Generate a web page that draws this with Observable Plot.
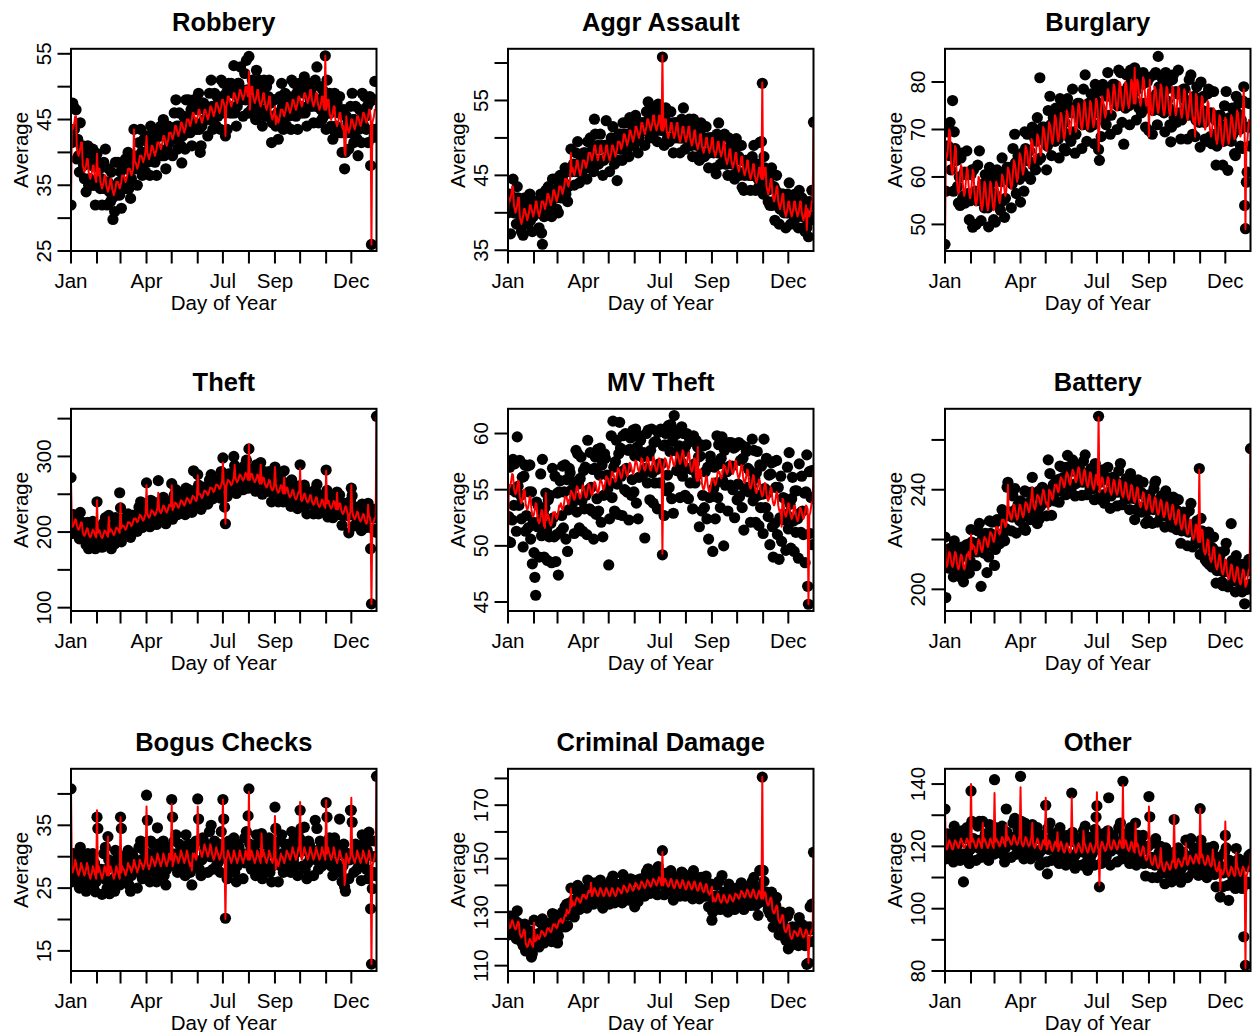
<!DOCTYPE html>
<html>
<head>
<meta charset="utf-8">
<script src="https://cdn.jsdelivr.net/npm/d3@7"></script>
<script src="https://cdn.jsdelivr.net/npm/@observablehq/plot@0.6"></script>
<style>
  html, body { margin: 0; padding: 0; background: #fff; }
  body { width: 1257px; height: 1032px; overflow: hidden; position: relative; }
  .panel { position: absolute; width: 437px; height: 360px; }
  .panel svg { max-width: none !important; width: 437px; height: 360px; display: block; }
  .panel svg [aria-label="x-axis tick"], .panel svg [aria-label="y-axis tick"] { stroke-width: 2px; }
  .panel svg g.tick line { stroke-width: 2px; }
</style>
</head>
<body>
<div id="chart"></div>
<script>
// Month boundaries (day of year) and the month names printed on the x axis
const monthTicks = [1, 32, 60, 91, 121, 152, 182, 213, 244, 274, 305, 335];
const monthNames = ["Jan", "Feb", "Mar", "Apr", "May", "Jun", "Jul", "Aug", "Sep", "Oct", "Nov", "Dec"];
const shownMonths = ["Jan", "Apr", "Jul", "Sep", "Dec"];

// Daily averages (black dots) and fitted values (red line), day 1 .. 365, one week per group
const robberyAvg = [
32,41.5,47.5,47,43.5,42,46.5, 39,42,39.5,37,44.5,41,39.5, 41,38,36,39.5,34,40,41, 35,36,39.5,35,38,40.5,35,
38,32,35,39.8,38.5,36,37.5, 34.5,36,32,35,38.5,34.5,40.5, 35.5,32,35.5,37.5,34,32.5,37, 33,29.8,33.5,31,38.5,35,33.5,
38.5,35.5,33.5,37,31.5,37.5,38.5, 34.5,35.5,39,34.5,37.5,40,34.5, 39,33,36,39.5,39.5,43.5,38.5, 37.5,39,35,38,41.5,37.5,43.5,
40,36.5,40,42,38.5,37,42.5, 38.5,41.5,39,36.5,44,40.5,39, 43.5,40.5,38.5,42,36.5,42.5,43.5, 39.5,40.5,44,39.5,42.5,45,39.5,
43.5,37.5,40.5,44,44,41.5,43, 42,43.5,39.5,42.5,46,42,48, 44,40.5,44,46,42.5,41,38.4, 42.5,45.5,43,40.5,48,44.5,43,
48,45,43,46.5,41,47,48, 43.5,44.5,48,43.5,46.5,49,43.5, 40,41,44,47.5,47.5,45,46.5, 45,46.5,42.5,45.5,49,45,51,
47,43.5,47,49,45.5,44,48.5, 45.5,48.5,46,43.5,51,47.5,46, 50.5,47.5,42.5,49,43.5,49.5,50.5, 46,47,50.5,46,49,53.2,46,
50,44,47,50.5,50.5,48,53, 48,49.5,45.5,48.5,52,48,54, 49.5,46,54.6,46,48,46.5,51, 47,50,47.5,45,52.5,49,47.5,
51,48,46,49.5,44,50,51, 45.5,46.5,50,45.5,48.5,51,45.5, 47.5,41.5,44.5,48,48,45.5,44, 44.5,46,42,45,48.5,44.5,50.5,
47,43.5,47,49,45.5,44,48.5, 45.5,48.5,46,43.5,51,47.5,46, 50.5,47.5,45.5,49,43.5,49.5,50.5, 46,47,50.5,46,49,51.5,46,
50,44,47,50.5,50.5,48,49.5, 47,48.5,44.5,47.5,51,47,53, 48,44.5,48,50,46.5,45,49.5, 45.5,48.5,54.7,43.5,51,47.5,46,
49,46,44,47.5,42,48,49, 43,44,47.5,43,46,48.5,43, 46,40,43,46.5,37.5,40,45.5, 43,44.5,40.5,43.5,47,43,49,
45,41.5,45,47,43.5,42,39.5, 43.5,46.5,44,41.5,49,45.5,44, 48.5,45.5,43.5,47,41.5,47.5,48.5, 38,26,48,43.5,42.3,50.8,43.5,
48];
const robberyFit = [
32,44,43.5,44,44.5,45.5,45.5, 40.5,40,39.5,40,40.5,41.5,41.5, 38,37.5,37,37.5,38,39,39, 37,36.5,36,36.5,37,38,38,
36.5,36,35.5,39.8,36.5,37.5,37.5, 35.5,35,34.5,35,35.5,36.5,36.5, 35,34.5,34,34.5,35,36,36, 34.5,34,33.5,34,34.5,35.5,35.5,
35.5,35,34.5,35,35.5,36.5,36.5, 36.5,36,35.5,36,36.5,37.5,37.5, 37.5,37,36.5,37,37.5,43.5,38.5, 38.5,38,37.5,38,38.5,39.5,39.5,
39.5,39,38.5,39,39.5,40.5,42.5, 40,39.5,39,39.5,40,41,41, 40.5,40,39.5,40,40.5,41.5,41.5, 41.5,41,40.5,41,41.5,42.5,42.5,
42,41.5,41,41.5,42,43,43, 43,42.5,42,42.5,43,44,44, 43.5,43,42.5,43,43.5,44.5,44.5, 44,43.5,43,43.5,44,45,45,
45,44.5,44,44.5,45,46,46, 45.5,45,44.5,45,45.5,46.5,46.5, 45.5,45,44.5,45,45.5,46.5,46.5, 46,45.5,45,45.5,46,47,47,
46.5,46,45.5,46,46.5,47.5,47.5, 47,46.5,46,46.5,47,48,48, 47.5,47,42.5,47,47.5,48.5,48.5, 48,47.5,47,47.5,48,49,49,
48.5,48,47.5,48,48.5,49.5,49.5, 49,48.5,48,48.5,49,50,50, 49,48.5,52.3,46.5,49,50,50, 48.5,48,47.5,48,48.5,49.5,49.5,
48,47.5,47,47.5,48,49,49, 47.5,47,46.5,47,47.5,48.5,48.5, 46,45.5,45,45.5,46,47,44.3, 45.5,45,44.5,45,45.5,46.5,46.5,
46.5,46,45.5,46,46.5,47.5,47.5, 47,46.5,46,46.5,47,48,48, 47.5,47,46.5,47,47.5,48.5,48.5, 48,47.5,47,47.5,48,49,49,
48.5,48,47.5,48,48.5,49.5,49.5, 48,47.5,47,47.5,48,49,49, 47.5,47,46.5,47,47.5,48.5,48.5, 47,46.5,54.7,46.5,47,48,48,
46,45.5,45,45.5,46,47,47, 45,44.5,44,44.5,45,46,46, 44.5,44,43.5,44,40,39.5,45.5, 44,43.5,43,43.5,44,45,45,
44.5,44,43.5,44,44.5,45.5,45.5, 45,44.5,44,44.5,45,46,46, 45.5,45,44.5,45,45.5,46.5,46.5, 45.5,26,44.5,45,45.5,46.5,46.5,
48];

const assaultAvg = [
40,40.5,42.5,37.2,42,41,44.5, 40,42,40,38.5,43.5,42,41, 41.5,39,37.5,40,37,41,42, 38.5,39,41,38.5,40.5,42.5,39,
41.5,37.5,39.5,41.5,41.5,40.5,41.5, 40,41,38,40,42.5,37.3,35.8, 42,39.5,41.5,43,41,40,43.5, 41,43,41,39.5,44.5,43,42,
44.5,42,40.5,43,40,44,45, 42,42.5,44.5,42,44,46,42.5, 45.5,41.5,43.5,45.5,45.5,48.5,45.5, 45.5,46.5,43.7,45.5,48,45.5,49.5,
46.5,44,46,47.5,45.5,44.5,48, 46,48,46,44.5,49.5,48,47, 50,47.5,46,48.5,45.5,52.5,50.5, 46.5,47,49,46.5,48.5,50.5,47,
49,45,47,49,49,52.3,49, 47.5,48.5,45.5,47.5,50,47.5,51.5, 49,46.5,48.5,50,44.3,47,50.5, 48.5,50.5,48.5,47,52,50.5,49.5,
52,49.5,48,50.5,47.5,52.7,52.5, 49,49.5,51.5,49,51,53,49.5, 52,48,50,52,52,51,52, 51,52,49,51,53.5,51,54.8,
52.5,50,52,53.5,51.5,50.5,54, 51,53,51,49.5,54.5,53,52, 53.5,51,60.8,52,49,53,54, 49.5,50,52,49.5,51.5,53.5,50,
52,48,50,52,52,51,52, 50,51,48,50,52.5,50,54, 51,48.5,50.5,52,50,49,52.5, 49,51,49,47.5,52.5,51,50,
51.5,49,47.5,50,47,51,52, 47.5,48,50,47.5,49.5,51.5,48, 50,46,48,50,50,49,50, 48,49,46,45.2,50.5,48,52,
49,46.5,48.5,50,48,47,50.5, 46.5,48.5,46.5,45,50,48.5,47.5, 49,46.5,45,47.5,44.5,48.5,49.9, 45,45.5,47.5,45,47,49,43.4,
47,43,45,47,47,46,47, 45,46,43,45,47.5,45,49, 45.5,43,45,46.5,44.5,43.5,49.4, 44,49.5,57.3,42.5,47.5,46,45,
45.5,43,41.5,44,41,45,46, 41,41.5,43.5,39,43,45,41.5, 42.5,38.5,40.5,42.5,42.5,41.5,42.5, 40,41,38,40,42.5,40,44,
41,38.5,40.5,42,40,39,42.5, 39.5,41.5,39.5,38,43,41.5,40.5, 42,39.5,38,40.5,37.5,41.5,38, 39,36.8,41.5,39,41,43,39.5,
52.1];
const assaultFit = [
40,42,41.5,42,42.5,43.5,43.5, 41,40.5,40,40.5,41,42,42, 39.5,39,38.5,39,39.5,40.5,40.5, 40,39.5,39,39.5,40,41,41,
40.5,40,39.5,40,40.5,41.5,41.5, 40.5,40,39.5,40,40.5,41.5,41.5, 41.5,41,40.5,41,41.5,42.5,42.5, 42,41.5,41,41.5,42,43,43,
42.5,42,41.5,42,42.5,43.5,43.5, 43.5,43,42.5,43,43.5,44.5,44.5, 44.5,44,43.5,44,44.5,48,45.5, 46,45.5,45,45.5,46,47,47,
46,45.5,45,45.5,46,47,47, 47,46.5,46,46.5,47,48,48, 48,47.5,47,47.5,48,49,49, 48,47.5,47,47.5,48,49,49,
48,47.5,47,47.5,48,49,49, 48,47.5,47,47.5,48,49,49, 48.5,48,47.5,48,48.5,49.5,49.5, 49.5,49,48.5,49,49.5,50.5,50.5,
50,49.5,49,49.5,50,51,51, 50.5,50,49.5,50,50.5,51.5,51.5, 51,50.5,50,50.5,51,52,52, 51.5,51,50.5,51,51.5,52.5,52.5,
52,51.5,51,51.5,52,53,53, 52,51.5,51,51.5,52,53,53, 51.5,51,61,51,51.5,52.5,52.5, 51,50.5,50,50.5,51,52,52,
51,50.5,50,50.5,51,52,52, 50.5,50,49.5,50,50.5,51.5,51.5, 50.5,50,49.5,50,50.5,51.5,51.5, 50,49.5,49,49.5,50,51,51,
49.5,49,48.5,49,49.5,50.5,50.5, 49,48.5,48,48.5,49,50,50, 49,48.5,48,48.5,49,50,50, 48.5,48,47.5,48,48.5,49.5,49.5,
48.5,48,47.5,48,48.5,49.5,49.5, 47.5,47,46.5,47,47.5,48.5,48.5, 47,46.5,46,46.5,47,48,48, 46.5,46,45.5,46,46.5,47.5,47.5,
46,45.5,45,45.5,46,47,47, 45.5,45,44.5,45,45.5,46.5,46.5, 45,44.5,44,44.5,45,46,46, 45,44.5,57.4,44.5,45,46,46,
43.5,43,42.5,43,43.5,44.5,44.5, 42.5,42,41.5,42,42.5,43.5,43.5, 41.5,41,40.5,41,41.5,42.5,42.5, 40.5,40,39.5,40,40.5,41.5,41.5,
40.5,40,39.5,40,40.5,41.5,41.5, 40.5,40,39.5,40,40.5,41.5,41.5, 40,39.5,39,39.5,40,41,37.7, 40.5,40,39.5,40,40.5,41.5,41.5,
52.1];

const burglaryAvg = [
45.8,57,66.5,69.5,66.5,64.5,71.5, 61.5,65,76.1,57,69.5,66,63.5, 63.5,58,54.5,60,54,64,65, 55.5,56,61,54.5,60.5,65.5,56.5,
60.5,51,55,60.5,61.5,49.4,61.5, 56,57,50,55,62.5,57,65.5, 57,50.8,55.5,58.5,55.5,53.5,60.5, 54,57.5,53.5,49.5,62,58.5,56,
60,54.5,51,56.5,50.5,60.5,61.5, 54,54.5,59.5,53,59,64,55, 61,51.5,55.5,61,62,60,62, 59.5,60.5,53.5,58.5,66,60.5,69,
63,56.5,61.5,64.5,61.5,59.5,54.7, 61.5,65,61,57,69.5,66,63.5, 69,63.5,60,65.5,59.5,69.5,70.5, 62.5,63,68,61.5,67.5,72.5,63.5,
69.5,80.9,64,69.5,70.5,68.5,70.5, 67.5,68.5,61.5,66.5,74,68.5,77, 71,64.5,69.5,72.5,69.5,67.5,74.5, 68.5,72,68,64,76.5,73,70.5,
75,69.5,66,71.5,65.5,75.5,76.5, 68.5,69,74,67.5,73.5,78.5,69.5, 74.5,65,69,74.5,75.5,73.5,75.5, 72,73,66,71,78.5,73,81.5,
74,67.5,72.5,75.5,72.5,70.5,77.5, 71.5,75,71,67,79.5,76,73.5, 78,65.8,63.5,74.5,68.5,78.5,79.5, 72,72.5,77.5,71,77,82,73,
78.5,69,73,78.5,79.5,77.5,79.5, 76,77,70,75,82.5,77,82, 78,71.5,76.5,66.9,76.5,74.5,81.5, 75.5,79,75,71,82.5,80,77.5,
81.5,76,83,78,72,82,82, 74.5,75,80,73.5,79.5,82,75.5, 80,70.5,74.5,80,81,69.8,81, 75,76,69,74,81.5,76,82,
77.5,71,85.4,79,76,74,81, 74,77.5,73.5,69.5,82,78.5,76, 80,74.5,71,67.4,70.5,80.5,81.5, 72.5,73,78,71.5,77.5,82.5,73.5,
77.5,68,72,77.5,78.5,76.5,78.5, 74,75,68,73,80.5,75,81.5, 75.5,69,74,77,68.5,72,79, 72,75.5,71.5,66.3,80,76.5,74,
77,71.5,68,73.5,67.5,77.5,78.5, 68,68.5,73.5,67,73,78,69, 72,62.5,66.5,72,73,71,73, 68.5,69.5,62.5,67.5,75,69.5,78,
71,61.4,69.5,72.5,69.5,67.5,74.5, 69,72.5,64.9,64.5,77,73.5,71, 75.5,70,66.5,72,66,76,79, 54,49.1,58.9,61,70.5,75.5,66.5,
70.5];
const burglaryFit = [
46,65,64,65,67.5,70,69.5, 63.5,61.5,60.5,61.5,64,66.5,66, 59.5,57.5,56.5,57.5,60,62.5,62, 59,57,56,57,59.5,62,61.5,
58.5,56.5,55.5,56.5,59,61.5,61, 57,55,54,55,57.5,60,59.5, 56,54,53,54,56.5,59,58.5, 56,54,53,54,56.5,59,58.5,
56,54,53,54,56.5,59,58.5, 57.5,55.5,54.5,55.5,58,60.5,60, 59,57,56,57,59.5,62,61.5, 60.5,58.5,57.5,58.5,61,63.5,63,
62,60,59,60,62.5,65,64.5, 63.5,61.5,60.5,61.5,64,66.5,66, 65,63,62,63,65.5,68,67.5, 66,64,63,64,66.5,69,68.5,
67.5,65.5,64.5,65.5,68,70.5,70, 68.5,66.5,65.5,66.5,69,71.5,71, 70,68,67,68,70.5,73,72.5, 70.5,68.5,67.5,68.5,71,73.5,73,
71,69,68,69,71.5,74,73.5, 72,70,69,70,72.5,75,74.5, 72.5,70.5,69.5,70.5,73,75.5,75, 73,71,70,71,73.5,76,75.5,
73,71,70,71,73.5,76,75.5, 73.5,71.5,70.5,71.5,74,76.5,76, 74,65.5,71,72,74.5,77,76.5, 75.5,73.5,72.5,73.5,76,78.5,78,
76.5,74.5,73.5,74.5,77,79.5,79, 77,75,74,75,77.5,80,79.5, 77,75,74,75,77.5,80,79.5, 77.5,75.5,74.5,75.5,78,80.5,80,
77.5,75.5,83,75.5,78,80.5,80, 78,76,75,76,78.5,81,80.5, 78,76,75,76,78.5,68.5,80.5, 76,74,73,74,76.5,79,78.5,
76.5,74.5,73.5,74.5,77,79.5,79, 76,74,73,74,76.5,79,78.5, 76,74,73,74,76.5,79,78.5, 76,74,73,74,76.5,79,78.5,
75.5,73.5,72.5,73.5,76,78.5,78, 75,73,72,73,75.5,78,77.5, 74.5,72.5,71.5,72.5,68.5,77.5,77, 74,72,71,72,74.5,77,76.5,
73,71,70,71,73.5,76,75.5, 71.5,69.5,68.5,69.5,72,74.5,74, 70,68,67,68,70.5,73,72.5, 69.5,67.5,66.5,67.5,70,72.5,72,
70,68,67,68,70.5,73,72.5, 71,69,68,69,71.5,74,73.5, 71.5,69.5,68.5,69.5,72,74.5,78.5, 69,49,66,67,69.5,72,71.5,
70];

const theftAvg = [
272,198,214,223,209,201,221, 202,215,204,191,226,211,204, 213,199,190,205,183,210,213, 178,192,208,188,203,214,188,
204,178,191,240,207,197,203, 193,199,180,194,212,193,219, 202,185,201,222,196,188,178, 195,208,197,184,219,204,197,
217,203,252,232,187,214,217, 198,202,218,198,213,224,198, 219,193,206,222,222,212,218, 214,220,201,215,233,214,240,
223,206,222,231,217,209,265, 218,231,220,207,242,227,220, 240,226,217,232,210,237,268, 220,224,240,220,235,246,220,
237,211,224,240,240,230,236, 230,264,217,231,249,230,256, 240,223,239,248,234,226,246, 234,247,236,223,258,243,236,
256,242,233,248,226,253,281, 236,240,256,236,276,262,236, 256,230,243,259,259,249,255, 250,256,237,251,269,250,276,
261,244,260,269,255,247,267, 256,269,258,245,280,265,298, 277,233,211,269,247,274,277, 257,261,277,257,272,300,288,
277,251,264,280,280,270,276, 269,275,256,270,288,269,295, 275,258,310,283,269,261,281, 265,278,267,254,289,274,267,
280,266,292,272,250,277,280, 254,258,274,254,269,280,254, 266,240,253,269,269,286,265, 253,259,240,254,272,253,279,
257,240,281,265,251,243,263, 245,258,247,234,269,254,247, 261,247,238,253,231,258,261, 289,240,256,236,251,262,236,
250,224,237,253,253,243,249, 237,243,224,238,256,237,263, 241,224,240,249,235,227,247, 231,244,233,282,255,220,233,
249,235,226,241,219,246,249, 223,227,253,223,238,249,223, 235,209,222,238,238,228,234, 222,228,199,223,241,258,248,
225,208,224,233,219,211,231, 213,226,215,202,237,222,215, 229,215,206,221,238,226,229, 178,105,224,204,219,230,200,
353];
const theftFit = [
270,209,207,209,213,217,216, 208,205,203,205,209,213,212, 200,197,195,197,201,205,204, 198,195,193,195,199,203,202,
198,195,193,242,199,203,202, 197,194,192,194,198,202,201, 199,196,194,220,200,204,203, 201,198,196,198,202,206,205,
204,201,199,238,205,209,208, 208,205,203,205,209,213,212, 213,210,208,210,214,218,217, 218,215,213,215,219,223,222,
220,217,215,217,221,225,262, 224,221,219,221,225,229,228, 227,224,222,224,228,232,252, 230,227,225,227,231,235,234,
231,228,226,228,232,236,235, 234,262,229,231,235,239,238, 237,234,232,234,238,242,241, 240,237,235,237,241,245,244,
243,240,238,240,244,248,247, 246,243,241,243,275,251,250, 250,247,245,247,251,255,254, 254,251,249,251,255,259,258,
258,255,253,255,259,263,262, 262,259,257,259,263,267,292, 264,261,211,261,265,269,268, 267,264,262,264,268,272,289,
271,268,266,268,272,276,275, 273,270,268,270,274,278,277, 272,269,316,269,273,277,276, 271,268,266,268,272,276,275,
267,264,289,264,268,272,271, 264,261,259,261,265,269,268, 260,257,255,257,261,286,264, 257,254,252,254,258,262,261,
254,251,272,251,255,259,258, 251,248,246,248,252,256,255, 248,245,243,245,249,253,252, 284,243,241,243,247,251,250,
244,241,239,241,245,249,248, 241,238,236,238,242,246,245, 238,235,233,235,239,243,242, 237,234,232,281,238,242,241,
236,233,231,233,237,241,240, 233,230,252,230,234,238,237, 229,226,224,226,230,234,233, 226,223,200,223,227,262,230,
222,219,217,219,223,227,226, 219,216,214,216,220,224,223, 216,213,211,213,236,221,220, 214,105,209,211,215,219,218,
352];

const mvTheftAvg = [
50.4,52.6,57,50.3,55,52.3,57.7, 53.6,57.3,54.8,51.3,59.7,55.3,53.6, 57.6,54.5,52.4,56.1,49.9,56.2,57.2, 51.3,52.7,57.1,51.6,54.8,57.2,50.6,
54.8,48.4,52.1,49.4,47.2,45.6,53.9, 51.7,53.6,49,52.2,56.4,50.9,57.7, 52.9,49,53.4,54.7,51.4,48.7,54.1, 50.8,54.5,52,48.5,56.9,52.5,50.8,
56.2,48.6,51,54.7,47.4,54.8,55.8, 51.3,52.7,57.1,51.6,54.8,57.2,50.6, 55.9,49.5,53.2,56.9,56.5,53.3,55, 53.8,55.7,51.1,54.3,58.5,53,58.2,
55.5,51.6,56,57.9,54,51.3,56.7, 53.3,57,54.5,51,59.4,55,53.3, 58.3,55.2,53.1,56.8,50.6,56.9,57.9, 52.8,54.2,58.6,53.1,56.3,58.7,52.1,
57.2,50.8,54.5,58.2,57.8,54.6,56.3, 55.1,48.3,52.4,55.6,59.8,54.3,61.1, 57,53.1,57.5,59.4,55.5,52.8,58.2, 61,58.7,56.2,52.7,59.8,56.7,55,
60,56.9,54.8,58.5,52.3,58.6,59.6, 54.5,55.9,60.3,54.8,58,60.4,53.8, 58.8,52.4,56.1,59.8,59.4,56.2,57.9, 56.4,58.3,50.7,56.9,60,55.6,60.3,
58,54.1,58.5,60.4,56.5,53.8,59.2, 55.6,59.3,56.8,53.3,60.1,57.3,55.6, 60.4,57.3,49.2,58.9,52.7,59,60, 54.9,56.3,60.7,55.2,58.4,60.8,54.2,
59.3,52.9,61.6,60.3,59.9,56.7,58.4, 57,58.9,54.3,57.5,60.6,56.2,60, 58.4,54.5,58.9,60,56.9,54.2,59.6, 55.6,59.3,56.8,53.3,59.8,57.3,55.6,
59.4,56.3,58.8,57.9,51.7,58,59, 53.1,54.5,58.9,53.4,56.6,59,52.4, 57,50.6,54.3,58,57.6,54.4,49.5, 55.1,57,52.4,55.6,59.8,54.3,59,
57.3,53.4,57.8,59.7,55.8,50,58.5, 55.4,59.1,56.6,53.1,59.2,57.1,55.4, 59.2,57.1,55,58.7,52.5,58.8,59, 54.1,55.5,59.2,54.4,57.6,59,53.4,
57.8,51.4,55.1,58.8,58.4,55.2,56.9, 54.8,56.7,52.1,55.3,59.5,54,58.5, 56,52.1,56.5,58.4,54.5,51.8,57.2, 53.4,57.1,54.6,51.1,59.5,55.1,53.4,
57.8,54.7,52.6,56.3,50.1,56.4,57.4, 51.7,49,57.5,52,55.2,57.6,51, 55.2,48.8,52.5,56.2,50.4,52.6,54.3, 52.3,54.2,49.6,52.8,57,51.5,58.3,
53.7,49.8,54.2,56.1,52.2,49.5,54.9, 51.2,54.9,52.4,48.9,57.3,52.9,51.2, 56.2,53.1,51,54.7,48.5,54.8,58.1, 46.4,44.8,56.6,51.1,54.3,56.7,50.1,
56.6];
const mvTheftFit = [
50.6,55.4,55.2,55.4,55.9,56.4,56.3, 55.2,54.8,54.6,54.8,55.3,55.8,55.7, 54.4,54,53.8,54,54.5,55,54.9, 53.8,53.4,53.2,53.4,53.9,54.4,54.3,
53.2,52.8,52.6,52.8,53.3,53.8,53.7, 52.6,52.2,52,52.2,52.7,53.2,53.1, 52.2,51.8,51.6,54.7,52.3,52.8,52.7, 52.4,52,51.8,52,52.5,53,52.9,
53,52.6,52.4,52.6,53.1,53.6,53.5, 53.8,53.4,53.2,53.4,53.9,54.4,54.3, 54.3,53.9,53.7,53.9,54.4,54.9,54.8, 54.7,54.3,54.1,54.3,54.8,55.3,55.2,
54.8,54.4,54.2,54.4,54.9,55.4,55.3, 54.9,54.5,54.3,54.5,55,55.5,55.4, 55.1,54.7,54.5,54.7,55.2,55.7,55.6, 55.3,54.9,54.7,54.9,55.4,55.9,55.8,
55.6,55.2,55,55.2,55.7,56.2,56.1, 56,55.6,55.4,55.6,56.1,56.6,56.5, 56.3,55.9,55.7,55.9,56.4,56.9,56.8, 56.6,56.2,56,56.2,56.7,57.2,57.1,
56.8,56.4,56.2,56.4,56.9,57.4,57.3, 57,56.6,56.4,56.6,57.1,57.6,57.5, 57.2,56.8,56.6,56.8,57.3,57.8,57.7, 57.3,56.9,56.7,56.9,57.4,57.9,57.8,
57.3,56.9,56.7,56.9,57.4,57.9,57.8, 57.2,56.8,56.6,56.8,57.3,57.8,57.7, 57.2,56.8,49.3,56.8,57.3,57.8,57.7, 57.4,57,56.8,57,57.5,58,57.9,
57.7,57.3,57.1,57.3,57.8,58.3,58.2, 57.9,57.5,57.3,57.5,58,58.5,58.4, 57.7,57.3,57.1,57.3,57.8,58.3,58.2, 57.2,56.8,56.6,56.8,57.3,57.8,57.7,
56.2,55.8,58.8,55.8,56.3,56.8,56.7, 55.6,55.2,55,55.2,55.7,56.2,56.1, 55.4,55,54.8,55,55.5,56,55.9, 56,55.6,55.4,55.6,56.1,56.6,56.5,
56.6,56.2,56,56.2,56.7,57.2,57.1, 57,56.6,56.4,56.6,57.1,57.6,57.5, 57,56.6,56.4,56.6,57.1,57.6,57.5, 56.6,56.2,56,56.2,56.7,57.2,57.1,
56.2,55.8,55.6,55.8,56.3,56.8,56.7, 55.7,55.3,55.1,55.3,55.8,56.3,56.2, 55.3,54.9,54.7,54.9,55.4,55.9,55.8, 55,54.6,54.4,54.6,55.1,55.6,55.5,
54.6,54.2,54,54.2,54.7,55.2,55.1, 54.2,53.8,53.6,53.8,54.3,54.8,54.7, 53.6,53.2,53,53.2,51.7,54.2,54.1, 53.2,52.8,52.6,52.8,53.3,53.8,53.7,
53,52.6,52.4,52.6,53.1,53.6,53.5, 52.8,52.4,52.2,52.4,52.9,53.4,53.3, 53,52.6,52.4,52.6,53.1,53.6,53.5, 53.3,44.8,52.7,52.9,53.4,53.9,53.8,
56.6];

const batteryAvg = [
221,196.7,212,215,211.5,208.5,216.5, 209.5,214,209.5,205,219.5,214.5,211.5, 216,209.5,206,212,205,216,217, 207,203,214,206,213.5,218,208,
217.5,206.5,211.5,224,219,215.5,218, 215.5,217,209.5,215,223.5,216.5,226.5, 219,201.2,218,221,217.5,214.5,222.5, 217.5,206.7,217.5,213,227.5,222.5,219.5,
227,220.5,217,209.6,216,227,228, 221,222,218.3,220,227.5,232,222, 230.5,219.5,224.5,230.5,241,243,231, 229.5,231,223.5,229,237.5,230.5,240.5,
232,222.6,231,234,230.5,227.5,235.5, 229.5,234,229.5,225,239.5,223.7,231.5, 239,232.5,229,235,228,239,245, 231,232,238,230,237.5,226.4,232,
239.5,228.5,233.5,239.5,241,237.5,240, 235.5,237,229.5,235,252,236.5,246.5, 240,229.7,239,242,238.5,235.5,243.5, 239.5,244,239.5,235,249.5,244.5,241.5,
249,242.5,239,245,238,249,253.8, 241,242,248,240,247.5,252,242, 248.5,237.5,242.5,248.5,250,246.5,249, 243.5,245,237.7,243,251.5,244.5,254,
245,238,244,247,243.5,240.5,248.5, 240.5,245,240.5,236,250.5,245.5,242.5, 247,269.5,237,243,236,247,248, 238,234.6,245,237,244.5,249,239,
243.5,232.5,237.5,243.5,245,241.5,244, 239.5,241,233.5,239,247.5,240.5,250.5, 241,234,240,243,239.5,236.5,244.5, 236.5,241,236.5,232,246.5,241.5,238.5,
243,236.5,228,239,232,243,244, 232,233,239,231,238.5,243,233, 237.5,226.5,231.5,237.5,227.7,235.5,238, 232.5,234,226.5,232,240.5,242.7,243.5,
234,227,233,236,232.5,229.5,237.5, 229.5,234,229.5,225,239.5,234.5,231.5, 236,229.5,226,232,225,236,237, 225,226,232,224,231.5,236,226,
229.5,218.5,223.5,229.5,231,227.5,230, 223.5,225,217.5,223,231.5,224.5,234.5, 224,217,223,226,222.5,219.5,227.5, 218.5,223,248.5,214,228.5,223.5,220.5,
222,215.5,212,218,211,222,223, 210,211,217,209,216.5,221,211, 213.5,202.5,207.5,213.5,215,211.5,214, 207.5,203,201.5,207,215.5,208.5,218.5,
208,201,207,210,206.5,226.4,211.5, 203.5,208,203.5,199,213.5,208.5,205.5, 210,203.5,200,206,199,210,201, 194.2,201,208,200,207.5,212,202,
256.5];
const batteryFit = [
221,210,209,210,213,215,214.5, 212,210,209,210,213,215,214.5, 211,209,208,209,212,214,213.5, 211,209,208,209,212,214,213.5,
215,213,212,222,216,218,217.5, 217,215,214,215,218,220,219.5, 218,216,215,216,219,221,220.5, 220,218,217,218,221,223,222.5,
222,220,219,220,223,225,224.5, 225,223,222,223,226,228,227.5, 228,226,225,226,229,242,230.5, 231,229,228,229,232,234,233.5,
231,229,228,229,232,234,233.5, 232,230,229,230,233,235,234.5, 234,232,231,232,235,237,241, 235,233,232,233,236,238,237.5,
237,235,234,235,238,240,239.5, 237,235,234,235,232,240,239.5, 239,237,236,237,240,242,241.5, 242,240,239,240,243,245,244.5,
244,242,241,242,245,247,246.5, 245,243,242,243,246,248,247.5, 246,244,243,244,247,249,248.5, 245,243,242,243,246,248,247.5,
244,242,241,242,245,247,246.5, 243,241,240,241,244,246,245.5, 242,269,239,240,243,245,244.5, 242,240,239,240,243,245,244.5,
241,239,238,239,242,244,243.5, 241,239,238,239,242,244,243.5, 240,238,237,238,241,243,242.5, 239,237,236,237,240,242,241.5,
238,236,235,236,239,241,240.5, 236,234,233,234,237,239,238.5, 235,233,232,233,236,238,237.5, 234,232,231,232,235,237,236.5,
233,231,230,231,234,236,235.5, 232,230,229,230,233,235,234.5, 231,229,228,229,232,234,233.5, 229,227,226,227,230,232,231.5,
227,225,224,225,228,230,229.5, 225,223,222,223,226,228,227.5, 223,221,220,221,224,226,225.5, 221,219,248,219,222,224,223.5,
217,215,214,215,218,220,219.5, 214,212,211,212,215,217,216.5, 211,209,208,209,212,214,213.5, 209,207,206,207,210,212,211.5,
207,205,204,205,208,210,209.5, 206,204,203,204,207,209,208.5, 205,203,202,203,206,208,207.5, 205,201,202,203,206,208,207.5,
257];

const bogusAvg = [
40.8,26,29,30.5,28,26.5,30, 26.5,29.5,27,25,31.5,28.5,27, 30.5,28,26,29,24.5,30,30.5, 25.5,26.5,29.5,25.5,28,30.5,25,
29,24.4,26,36.3,34.5,27,28, 27,28,24,27,30.5,26.5,31.5, 28,25,33.2,29.5,24.1,25.5,29, 26,29,26.5,24.5,31,28,26.5,
30,27.5,25.5,36.3,34.5,29.5,30, 26,27,30,26,28.5,31,25.5, 30,24.5,27,30.5,30,28,29, 28,29,25,28,31.5,27.5,32.5,
29.5,26.5,29.5,31,28.5,27,39.8, 35.8,30.5,28,26,32.5,29.5,28, 32,29.5,27.5,30.5,26,34.6,32, 27.5,28.5,31.5,27.5,30,32.5,27,
31,25.5,28,31.5,31,29,30, 29,39.1,36.3,29,32.5,28.5,33.5, 30.5,27.5,30.5,32,29.5,28,31.5, 28.5,31.5,29,27,33.5,30.5,29,
32,29.5,27.5,30.5,25.5,31.5,32, 28.5,29.5,32.5,28.5,39.2,36,28, 32.5,27,29.5,33,32.5,30.5,31.5, 30.5,31.5,27.5,30.5,34,30,35,
31,28,31,32.5,30,28.5,32, 29,32,29.5,27.5,34,31,39.1, 36,30,20.2,31,26.5,32,32.5, 28,29,32,28,30.5,33,27.5,
31.5,26,28.5,32,31.5,29.5,30.5, 29.5,30.5,26.5,29.5,33,29,34, 30.5,36.5,40.8,32,29.5,28,31.5, 28.5,31.5,29,27,33.5,30.5,29,
32.5,30,28,33.7,26.5,32,32.5, 28,29,32,28,30.5,33,27.5, 31.5,26,28.5,32,31.5,37.9,34.5, 29,30,26,29,32.5,28.5,33.5,
30.5,27.5,30.5,32,29.5,28,31.5, 29,32,29.5,27.5,34,31,29.5, 33,30.5,28.5,31.5,27,32.5,33, 37.4,34.5,32.5,28.5,31,34.7,28,
32,26.5,29,32.5,32,30,31, 30,31,27,30,35.8,29.5,34.5, 31,28,31,32.5,30,28.5,32, 29,32,29.5,38.6,36.3,31,29.5,
33,30.5,28.5,31.5,27,32.5,33, 28,29,32,28,30.5,36,27.5, 31.5,26,28.5,32,25.2,24.5,30.5, 29.5,30.5,26.5,29.5,37.4,37.4,35.5,
30.5,27.5,30.5,32,29.5,28,31.5, 28.5,31.5,29,26.2,33.5,30.5,29, 32.5,30,28,31,26.5,33.9,32.5, 21.7,12.9,24.9,27.5,30,32.5,27,
42.8];
const bogusFit = [
40.8,28,27.5,28,28.5,29.5,29, 28,27.5,27,27.5,28,29,28.5, 28,27.5,27,27.5,28,29,28.5, 27.5,27,26.5,27,27.5,28.5,28,
27.5,27,26.5,37.4,27.5,28.5,28, 27.5,27,26.5,27,27.5,28.5,28, 27.5,27,33.2,27,27.5,28.5,28, 27.5,27,26.5,27,27.5,28.5,28,
27.5,27,26.5,36.3,27.5,28.5,28, 28,27.5,27,27.5,28,29,28.5, 28.5,28,27.5,28,28.5,29.5,29, 28.5,28,27.5,28,28.5,29.5,29,
29,28.5,28,28.5,29,30,38, 29,28.5,28,28.5,29,30,29.5, 29.5,29,28.5,29,29.5,30.5,30, 29.5,29,28.5,29,29.5,30.5,30,
29.5,29,28.5,29,29.5,30.5,30, 29.5,38.4,28.5,29,29.5,30.5,30, 30,29.5,29,29.5,30,31,30.5, 30,29.5,29,29.5,30,31,30.5,
29.5,29,28.5,29,27.8,30.5,30, 30.5,30,29.5,30,38,31.5,31, 31,30.5,30,30.5,31,32,31.5, 31,30.5,30,30.5,31,32,31.5,
30.5,30,29.5,30,30.5,31.5,31, 30.5,30,29.5,30,30.5,31.5,39.1, 30,29.5,20.1,29.5,30,31,30.5, 30,29.5,29,29.5,30,31,30.5,
30,29.5,29,29.5,30,31,30.5, 30,29.5,29,29.5,30,31,30.5, 30,29.5,40.3,29.5,30,31,30.5, 30,29.5,29,29.5,30,31,30.5,
30,29.5,29,33.7,30,31,30.5, 30,29.5,29,29.5,30,31,30.5, 30,29.5,29,29.5,30,36.5,28, 29.5,29,28.5,29,29.5,30.5,30,
30,29.5,29,29.5,30,31,30.5, 30.5,30,29.5,30,30.5,31.5,31, 30.5,30,29.5,30,30.5,31.5,31, 38.7,30,29.5,30,30.5,31.5,31,
30.5,30,29.5,30,30.5,31.5,31, 30.5,30,29.5,30,30.5,31.5,31, 30.5,30,29.5,30,30.5,31.5,31, 30.5,30,29.5,39,30.5,31.5,31,
30.5,30,29.5,30,30.5,31.5,31, 30,29.5,29,29.5,30,31,30.5, 30,29.5,29,29.5,25.5,27,30.5, 30,29.5,29,29.5,30,39.4,30.5,
30,29.5,29,29.5,30,31,30.5, 30,29.5,29,29.5,30,31,30.5, 30,29.5,29,29.5,30,31,30.5, 29.5,12.9,28.5,29,29.5,30.5,30,
42.8];

const damageAvg = [
128.5,121.5,126,128.5,125,122.5,128, 123,127,123.5,120,130.5,126,124, 125.5,121.5,119,123,117.5,124.5,125.5, 115.5,116.5,121,115.5,120,123,115.5,
113.2,114.5,116.5,127,121,118,119.5, 120.5,122,117,120.5,126,120.5,127.5, 123.5,118.5,123,125.5,122,119.5,125, 122,126,122.5,119,129.5,125,123,
129,125,122.5,118.5,121,128,129, 124.5,125.5,130,124.5,129,132,124.5, 133,125,129,133,133.5,139,132, 133,134.5,128.2,133,138.5,133,140,
136,131,135.5,138,134.5,132,137.5, 134.5,138.5,135,131.5,142,137.5,135.5, 141,141,134.5,138.5,133,140,141, 134.5,135.5,140,134.5,139,142,134.5,
139.5,131.5,135.5,139.5,140,137,138.5, 136.5,138,133,136.5,142,136.5,143.5, 138.5,133.5,138,140.5,137,134.5,140, 136.5,140.5,137,133.5,144,139.5,137.5,
142.5,138.5,136,140,134.5,141.5,142.5, 136.5,137.5,142,136.5,132,133.8,136.5, 142,134,138,142,142.5,139.5,141, 139.5,141,136,139.5,145,139.5,146.2,
142,137,141.5,144,140.5,138,143.5, 139.5,143.5,140,136.5,147,142.5,140.5, 144.5,140.5,153,142,136.5,143.5,144.5, 138,139,143.5,138,142.5,145.5,138,
142.5,134.5,138.5,142.5,143,140,141.5, 139.5,141,136,139.5,145,139.5,144.4, 141,136,140.5,143,139.5,137,142.5, 138,142,138.5,135,145.5,141,139,
143,139,136.5,140.5,135,142,143, 136,137,141.5,136,140.5,143.5,136, 140,132,136,140,140.5,127,130, 134.5,136,131,134.5,140,134.5,141.5,
136,131,135.5,143.7,134.5,132,137.5, 133,137,133.5,130,140.5,136,134, 139,135,132.5,136.5,131,138,139, 133.5,134.5,139,133.5,138,141,133.5,
139,131,135,139,139.5,136.5,138, 136,137.5,132.5,136,141.5,136,143, 137.5,132.5,137,139.5,128.8,133.5,145.6, 134,138,180.5,145.6,141.5,137,135,
137.5,133.5,131,135,129.5,136.5,137.5, 128,124.4,133.5,128,132.5,135.5,128, 129.5,121.5,125.5,129.5,130,127,128.5, 123,124.5,119.5,123,128.5,116.3,130,
122.5,117.5,122,124.5,121,118.5,124, 120.5,124.5,121,117.5,128,123.5,121.5, 125.5,121.5,119,123,117.5,124.5,110.5, 119,111,124.5,132,123.5,133,119,
152.4];
const damageFit = [
128,124.5,124,124.5,126,127,126.5, 125,124,123.5,124,125.5,126.5,126, 122,121,120.5,121,122.5,123.5,123, 118.5,117.5,117,117.5,119,120,119.5,
118.5,117.5,117,126,119,120,119.5, 121.5,120.5,120,120.5,122,123,122.5, 122.5,121.5,121,121.5,123,124,123.5, 124,123,122.5,123,124.5,125.5,125,
125.5,124.5,124,124.5,126,127,126.5, 127.5,126.5,126,126.5,128,129,128.5, 131,130,129.5,130,131.5,138.8,132, 134,133,132.5,133,134.5,135.5,135,
135,134,133.5,134,135.5,136.5,136, 136.5,135.5,135,135.5,137,138,137.5, 137.5,141,136,136.5,138,139,138.5, 137.5,136.5,136,136.5,138,139,138.5,
137.5,136.5,136,136.5,138,139,138.5, 137.5,136.5,136,136.5,138,139,138.5, 137.5,136.5,136,136.5,138,139,138.5, 138.5,137.5,137,137.5,139,140,139.5,
139,138,137.5,138,139.5,140.5,140, 139.5,138.5,138,138.5,140,141,140.5, 140,139,138.5,139,140.5,141.5,141, 140.5,139.5,139,139.5,141,142,141.5,
141,140,139.5,140,141.5,142.5,142, 141.5,140.5,140,140.5,142,143,142.5, 141,140,152.5,140,141.5,142.5,142, 141,140,139.5,140,141.5,142.5,142,
140.5,139.5,139,139.5,141,142,141.5, 140.5,139.5,139,139.5,141,142,141.5, 140,139,138.5,139,140.5,141.5,141, 140,139,138.5,139,140.5,141.5,141,
139.5,138.5,138,138.5,140,141,140.5, 139,138,137.5,138,139.5,140.5,140, 138,137,136.5,137,138.5,139.5,134, 135.5,134.5,134,134.5,136,137,136.5,
135,134,133.5,134,135.5,136.5,136, 135,134,133.5,134,135.5,136.5,136, 135.5,134.5,134,134.5,136,137,136.5, 136.5,135.5,135,135.5,137,138,137.5,
137,136,135.5,136,137.5,138.5,138, 137,136,135.5,136,137.5,138.5,138, 136.5,135.5,135,135.5,137,138,137.5, 136,135,180.5,135,136.5,137.5,137,
134,133,132.5,133,134.5,135.5,135, 131,130,129.5,130,131.5,132.5,132, 127.5,126.5,126,126.5,128,129,128.5, 124,123,122.5,123,124.5,125.5,125,
121.5,120.5,120,120.5,122,123,122.5, 122.5,121.5,121,121.5,123,124,123.5, 122,121,120.5,121,122.5,123.5,123, 122,111,120.5,121,122.5,123.5,123,
152.4];

const otherAvg = [
132,116,121.5,124,120,116.5,123.5, 118.5,123,119.5,115,126.5,121.5,119, 125,120.5,117.5,122.5,115.5,124,125, 117.5,108.6,124.5,117.5,122.5,126,117,
123,114.5,119,137.8,128,120.5,122.5, 120,122,115.5,120,126.5,119.5,128, 122,116.5,122,128,120.5,117,124, 119,123.5,120,115.5,127,122,119.5,
125,120.5,117.5,141.4,126,124,125, 118,119.5,125,118,123,126.5,117.5, 123.5,115,119.5,132,124.5,121,123, 121,123,116.5,121,127.5,120.5,129,
123,117.5,123,125.5,121.5,118,142.5, 128,124,120.5,116,127.5,122.5,120, 125.5,121,118,123,116,124.5,127, 117.5,119,124.5,117.5,122.5,126,117,
122.5,114,118.5,123.5,123.5,120,122, 119.5,133.2,115,111.2,126,119,127.5, 121,115.5,121,123.5,119.5,116,123, 118,124.5,119,114.5,126,121,118.5,
123.5,119,116,121,114,122.5,123.5, 116,117.5,123,116,137.1,124.5,115.5, 121.5,113,117.5,122.5,122.5,119,121, 118.5,120.5,114,118.5,125,118,126.5,
120.5,115,112.3,123,119,115.5,122.5, 117.5,122,118.5,114,125.5,129.4,133, 124,119.5,107,121.5,114.5,123,124, 116.5,118,123.5,116.5,121.5,125,135.6,
122.5,114,118.5,123.5,123.5,120,122, 119.5,121.5,115,119.5,126,119,127.5, 121.5,116,140.9,124,120,116.5,123.5, 118,122.5,119,114.5,126,121,118.5,
123.5,119,116,127.5,114,122.5,123.5, 115,116.5,122,115,120,123.5,114.5, 119,110.5,115,120,120,136,129.5, 114.5,116.5,110,114.5,121,114,122.5,
115.5,110,115.5,118,114,120,117.5, 111.5,116,112.5,108,119.5,114.5,112, 118,113.5,110.5,115.5,108.6,117,118, 128.6,112.5,118,111,116,119.5,110.5,
117,108.5,113,118,118,114.5,116.5, 122,116.5,110,114.5,121,114,122.5, 117,111.5,117,119.5,115.5,112,119, 114,110.7,115,132.1,122,117,114.5,
119.5,115,112,117,110,118.5,119.5, 111.5,113,118.5,111.5,119,120,111, 115.5,107,111.5,116.5,116.5,113,103.7, 111.5,113.5,107,111.5,118,123.5,119.5,
113,107.5,102.7,115.5,111.5,108,115, 110,114.5,111,106.5,119.3,113,110.5, 116,111.5,108.5,113.5,106.5,115,91, 108.5,81.8,115.5,108.5,113.5,117,108,
117.5];
const otherFit = [
132,119.5,119,119.5,121,122,121.5, 120.5,119.5,119,119.5,121,122,121.5, 121,120,119.5,120,121.5,122.5,122, 121,120,119.5,120,121.5,122.5,122,
121,120,119.5,140,121.5,122.5,122, 121,120,119.5,120,121.5,122.5,122, 121,120,119.5,127.5,121.5,122.5,122, 121,120,119.5,120,121.5,122.5,122,
121,120,119.5,137.1,121.5,122.5,122, 121.5,120.5,120,120.5,122,123,122.5, 121.5,120.5,120,127,122,123,122.5, 122,121,120.5,121,122.5,123.5,123,
122,121,120.5,121,122.5,123.5,139, 121.5,120.5,120,120.5,122,123,122.5, 121.5,120.5,120,120.5,122,123,127.5, 121,120,119.5,120,121.5,122.5,122,
120.5,119.5,119,119.5,121,122,121.5, 120.5,135.6,119,119.5,121,122,121.5, 120,119,118.5,119,120.5,121.5,121, 120,124.5,118.5,119,120.5,121.5,121,
119.5,118.5,118,118.5,120,121,120.5, 119.5,118.5,118,118.5,135.6,121,120.5, 119.5,118.5,118,118.5,120,121,120.5, 119.5,118.5,118,118.5,125,121,120.5,
119.5,118.5,118,118.5,120,121,120.5, 119.5,118.5,118,118.5,120,121,137.4, 120,119,107.5,119,120.5,121.5,121, 120,119,118.5,119,120.5,121.5,126.5,
120.5,119.5,119,119.5,121,122,121.5, 120.5,119.5,119,119.5,121,122,121.5, 120.5,119.5,139.6,119.5,121,122,121.5, 120,119,118.5,119,120.5,121.5,121,
119.5,118.5,118,127.5,120,121,120.5, 118.5,117.5,117,117.5,119,120,119.5, 117,116,115.5,116,117.5,132.8,118, 115.5,114.5,114,114.5,116,117,116.5,
114.5,113.5,113,113.5,115,119.5,115.5, 113.5,112.5,112,112.5,114,115,114.5, 114,113,112.5,113,114.5,115.5,115, 130,113.5,113,113.5,115,116,115.5,
115,114,113.5,114,115.5,116.5,116, 121,114.5,114,114.5,116,117,116.5, 116,115,114.5,115,116.5,117.5,117, 116,115,114.5,132.1,116.5,117.5,117,
115.5,114.5,114,114.5,116,117,116.5, 115,114,113.5,114,119,116,115.5, 113.5,112.5,112,112.5,114,115,106, 112.5,111.5,111,111.5,113,128,113.5,
112,111,110.5,111,112.5,113.5,113, 112,111,110.5,111,118,113.5,113, 112,111,110.5,111,112.5,113.5,113, 112,81,110.5,111,112.5,113.5,113,
117.5];

// One record per panel: title, series, y range and y ticks
const panels = [
  {title: "Robbery",         avg: robberyAvg,  fit: robberyFit,  yDomain: [25, 55.76],    yTicks: [25, 30, 35, 40, 45, 50, 55],             yLabels: [25, 35, 45, 55]},
  {title: "Aggr Assault",    avg: assaultAvg,  fit: assaultFit,  yDomain: [34.9, 61.9],   yTicks: [35, 40, 45, 50, 55, 60],                yLabels: [35, 45, 55]},
  {title: "Burglary",        avg: burglaryAvg, fit: burglaryFit, yDomain: [44.4, 87],     yTicks: [50, 60, 70, 80],                         yLabels: [50, 60, 70, 80]},
  {title: "Theft",           avg: theftAvg,    fit: theftFit,    yDomain: [95.6, 363],    yTicks: [100, 150, 200, 250, 300, 350],           yLabels: [100, 200, 300]},
  {title: "MV Theft",        avg: mvTheftAvg,  fit: mvTheftFit,  yDomain: [44.2, 62.2],   yTicks: [45, 50, 55, 60],                         yLabels: [45, 50, 55, 60]},
  {title: "Battery",         avg: batteryAvg,  fit: batteryFit,  yDomain: [191.3, 272.5], yTicks: [200, 220, 240, 260],                     yLabels: [200, 240]},
  {title: "Bogus Checks",    avg: bogusAvg,    fit: bogusFit,    yDomain: [11.8, 44],     yTicks: [15, 20, 25, 30, 35, 40],                 yLabels: [15, 25, 35]},
  {title: "Criminal Damage", avg: damageAvg,   fit: damageFit,   yDomain: [108, 183.6],   yTicks: [110, 120, 130, 140, 150, 160, 170, 180], yLabels: [110, 130, 150, 170]},
  {title: "Other",           avg: otherAvg,    fit: otherFit,    yDomain: [80, 144.9],    yTicks: [80, 90, 100, 110, 120, 130, 140],        yLabels: [80, 100, 120, 140]}
];

const font = "'Liberation Sans', Arial, Helvetica, sans-serif";
const monthLabel = d => {
  const name = monthNames[monthTicks.indexOf(d)];
  return shownMonths.includes(name) ? name : "";
};
const byDay = values => values.map((value, i) => ({day: i + 1, value}));

const root = document.getElementById("chart");
const cellW = 437, cellH = 360;

panels.forEach((p, k) => {
  const svg = Plot.plot({
    width: cellW,
    height: cellH,
    marginLeft: 70.5,
    marginRight: 61,
    marginTop: 48.3,
    marginBottom: 109.5,
    style: {fontFamily: font, fontSize: "20.5px", background: "transparent", color: "black", overflow: "visible"},
    x: {domain: [1, 365], ticks: monthTicks, tickFormat: monthLabel, tickSize: 13, tickPadding: 9, label: null},
    y: {domain: p.yDomain, ticks: p.yTicks, tickFormat: () => "", tickSize: 13, tickPadding: 3, label: null},
    marks: [
      Plot.dot(byDay(p.avg), {x: "day", y: "value", r: 5.6, fill: "black", clip: true}),
      Plot.line(byDay(p.fit), {x: "day", y: "value", stroke: "#ff0000", strokeWidth: 2, clip: true}),
      Plot.frame({stroke: "black", strokeWidth: 2}),
      Plot.text(p.yLabels, {y: d => d, text: d => String(d), frameAnchor: "left", dx: -20.5, rotate: -90,
        textAnchor: "middle", lineAnchor: "bottom", fontSize: 20.5}),
      Plot.text(["Average"], {frameAnchor: "left", dx: -43, rotate: -90, textAnchor: "middle",
        lineAnchor: "bottom", fontSize: 20.5}),
      Plot.text([p.title], {frameAnchor: "top", dy: -17.6, lineAnchor: "bottom", fontSize: 25.5, fontWeight: "bold"}),
      Plot.text(["Day of Year"], {frameAnchor: "bottom", dy: 58.8, lineAnchor: "bottom", fontSize: 20.5})
    ]
  });
  svg.style.maxWidth = "none";
  const cell = document.createElement("div");
  cell.className = "panel";
  cell.style.left = `${(k % 3) * cellW}px`;
  cell.style.top = `${Math.floor(k / 3) * cellH}px`;
  cell.appendChild(svg);
  root.appendChild(cell);
});
</script>
</body>
</html>
